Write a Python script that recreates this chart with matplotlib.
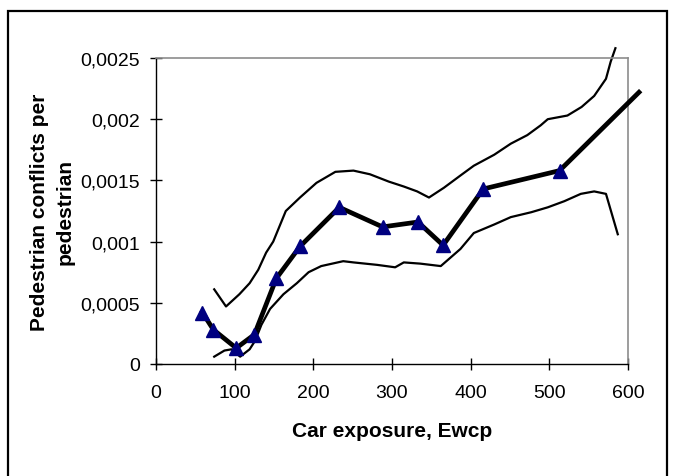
import matplotlib
matplotlib.use("Agg")
import matplotlib.pyplot as plt
from matplotlib.patches import Rectangle
from matplotlib.ticker import FixedLocator, FixedFormatter

# Mean conflict rate (triangles) and its fitted continuation
mean_x = [59, 73, 102, 125, 153, 183, 233, 288, 333, 365, 416, 513, 614]
mean_y = [0.00042, 0.00028, 0.00013, 0.00024, 0.00070, 0.00096, 0.00128,
          0.00112, 0.00116, 0.00097, 0.00143, 0.00158, 0.00222]
n_observed = 12  # points carrying a marker

# Upper confidence band
upper_x = [74, 89, 106, 119, 130, 140, 149, 165, 183, 204, 228, 251, 272, 296,
           315, 332, 347, 366, 387, 404, 430, 451, 472, 489, 498, 523, 541,
           557, 572, 578, 584]
upper_y = [0.00061, 0.00047, 0.00057, 0.00066, 0.00077, 0.00091, 0.00100,
           0.00125, 0.00136, 0.00148, 0.00157, 0.00158, 0.00155, 0.00149,
           0.00145, 0.00141, 0.00136, 0.00144, 0.00154, 0.00162, 0.00171,
           0.00180, 0.00187, 0.00195, 0.00200, 0.00203, 0.00210, 0.00219,
           0.00233, 0.00247, 0.00258]

# Lower confidence band
lower_x = [74, 87, 96, 107, 119, 126, 134, 145, 162, 179, 194, 210, 238, 251,
           281, 304, 315, 336, 362, 387, 404, 430, 451, 477, 498, 519, 540,
           557, 572, 587]
lower_y = [0.00006, 0.00011, 0.00012, 0.00006, 0.00012, 0.00019, 0.00032,
           0.00045, 0.00057, 0.00066, 0.00075, 0.00080, 0.00084, 0.00083,
           0.00081, 0.00079, 0.00083, 0.00082, 0.00080, 0.00094, 0.00107,
           0.00114, 0.00120, 0.00124, 0.00128, 0.00133, 0.00139, 0.00141,
           0.00139, 0.00106]

x_ticks = [0, 100, 200, 300, 400, 500, 600]
y_ticks = [0, 0.0005, 0.001, 0.0015, 0.002, 0.0025]
y_tick_labels = ["0", "0,0005", "0,001", "0,0015", "0,002", "0,0025"]

x_title = "Car exposure, Ewcp"
y_title = "Pedestrian conflicts per\npedestrian"

plt.rcParams["font.family"] = ["Liberation Sans", "DejaVu Sans"]

W, H = 673, 477
fig = plt.figure(figsize=(W / 100, H / 100), dpi=100)
ax = fig.add_axes([156 / W, 1 - 365 / H, (628 - 156) / W, (365 - 59) / H])

ax.plot(upper_x, upper_y, color="black", lw=1.6, clip_on=False, zorder=2)
ax.plot(lower_x, lower_y, color="black", lw=1.6, clip_on=False, zorder=2)
ax.plot(mean_x, mean_y, color="black", lw=3.4, clip_on=False, zorder=3,
        solid_joinstyle="miter")
ax.plot(mean_x[:n_observed], mean_y[:n_observed], ls="none", marker="^",
        ms=10, color="#000080", mec="#000080", clip_on=False, zorder=4)

ax.set_xlim(0, 600)
ax.set_ylim(0, 0.0025)
ax.xaxis.set_major_locator(FixedLocator(x_ticks))
ax.yaxis.set_major_locator(FixedLocator(y_ticks))
ax.yaxis.set_major_formatter(FixedFormatter(y_tick_labels))
ax.tick_params(direction="inout", length=9, width=1, labelsize=14,
               colors="black")
ax.tick_params(axis="x", pad=10)
ax.tick_params(axis="y", pad=7)

for side in ("left", "bottom"):
    ax.spines[side].set_color("black")
    ax.spines[side].set_linewidth(1.0)
for side in ("top", "right"):
    ax.spines[side].set_color("#8c8c8c")
    ax.spines[side].set_linewidth(1.2)

fig.text(392 / W, 1 - 432 / H, x_title, ha="center", va="center",
         fontsize=15, fontweight="bold")
fig.text(52 / W, 1 - 212 / H, y_title, ha="center", va="center",
         rotation=90, multialignment="center", fontsize=15,
         fontweight="bold", linespacing=1.45)

# Outer chart frame (open at the bottom edge of the image)
fig.patches.append(Rectangle((8 / W, -0.2), (667 - 8) / W, 1.2 - 12 / H,
                             transform=fig.transFigure, fill=False,
                             edgecolor="black", lw=1.6, clip_on=False))

fig.savefig("out.png", dpi=100)
